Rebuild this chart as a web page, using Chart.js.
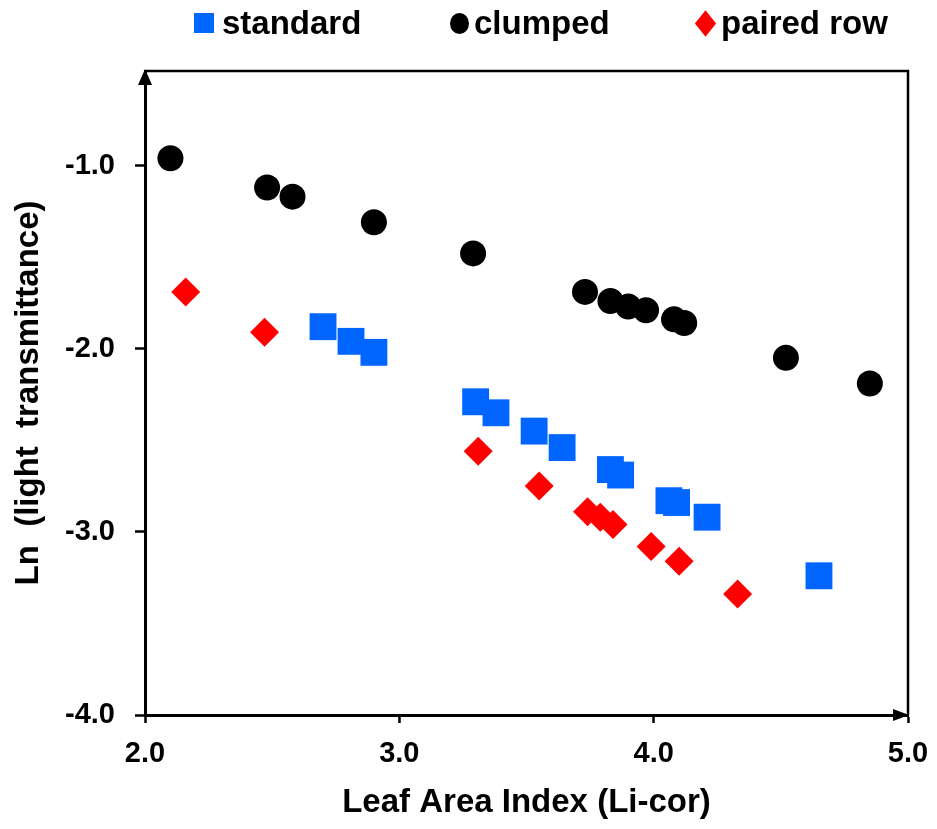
<!DOCTYPE html>
<html>
<head>
<meta charset="utf-8">
<script src="https://cdn.jsdelivr.net/npm/chart.js@4.4.0/dist/chart.umd.min.js"></script>
<style>
  html, body { margin: 0; padding: 0; background: #ffffff; }
  #wrap { position: relative; width: 937px; height: 829px; }
  #legend { position: absolute; top: 0; left: 0; width: 937px; height: 46px;
            font: bold 33px 'Liberation Sans', Arial, sans-serif; color: #000; }
  .item { position: absolute; top: 0; height: 46px; display: flex; align-items: center; white-space: pre; }
  .mk { display: inline-block; flex: none; }
</style>
</head>
<body>
<div id="wrap">
  <canvas id="c" width="937" height="829"></canvas>
  <div id="legend"></div>
</div>
<script>
// ---- data ----
const seriesNames = ['standard', 'clumped', 'paired row'];

const standardX = [2.70, 2.81, 2.90, 3.30, 3.38, 3.53, 3.64, 3.83, 3.87, 4.06, 4.09, 4.21, 4.65];
const standardY = [-1.88, -1.96, -2.02, -2.29, -2.35, -2.45, -2.54, -2.66, -2.69, -2.83, -2.84, -2.92, -3.24];

const clumpedX = [2.10, 2.48, 2.58, 2.90, 3.29, 3.73, 3.83, 3.90, 3.97, 4.08, 4.12, 4.52, 4.85];
const clumpedY = [-0.96, -1.12, -1.17, -1.31, -1.48, -1.69, -1.74, -1.77, -1.79, -1.84, -1.86, -2.05, -2.19];

const pairedX = [2.16, 2.47, 3.31, 3.55, 3.74, 3.79, 3.84, 3.99, 4.10, 4.33];
const pairedY = [-1.69, -1.91, -2.56, -2.75, -2.89, -2.92, -2.96, -3.08, -3.16, -3.34];

const xTickValues = [2, 3, 4, 5];
const yTickValues = [-4, -3, -2, -1];

const xTitle = 'Leaf Area Index (Li-cor)';
const yTitle = 'Ln  (light  transmittance)';

// ---- helpers ----
function pts(xs, ys) { return xs.map((x, i) => ({ x: x, y: ys[i] })); }

const FONT = "'Liberation Sans', Arial, sans-serif";

const datasets = [
  { label: seriesNames[0], data: pts(standardX, standardY), pointStyle: 'rect',
    pointRadius: 19, backgroundColor: '#0066ff', borderColor: '#0066ff', pointBorderWidth: 0 },
  { label: seriesNames[1], data: pts(clumpedX, clumpedY), pointStyle: 'circle',
    pointRadius: 13, backgroundColor: '#000000', borderColor: '#000000', pointBorderWidth: 0 },
  { label: seriesNames[2], data: pts(pairedX, pairedY), pointStyle: 'rectRot',
    pointRadius: 14.5, backgroundColor: '#ff0000', borderColor: '#ff0000', pointBorderWidth: 0 }
];

// frame (top/right lines) and axis arrowheads
const framePlugin = {
  id: 'frame',
  afterDraw(chart) {
    const { ctx, chartArea: { left, right, top, bottom } } = chart;
    ctx.save();
    ctx.strokeStyle = '#000';
    ctx.lineWidth = 2.5;
    ctx.beginPath();
    ctx.moveTo(left, top);
    ctx.lineTo(right, top);
    ctx.lineTo(right, bottom);
    ctx.stroke();
    ctx.fillStyle = '#000';
    ctx.beginPath();
    ctx.moveTo(left, top - 2);
    ctx.lineTo(left - 7, top + 14);
    ctx.lineTo(left + 7, top + 14);
    ctx.closePath();
    ctx.fill();
    ctx.beginPath();
    ctx.moveTo(right + 1, bottom);
    ctx.lineTo(right - 15, bottom - 6);
    ctx.lineTo(right - 15, bottom + 6);
    ctx.closePath();
    ctx.fill();
    ctx.restore();
  }
};

new Chart(document.getElementById('c'), {
  type: 'scatter',
  data: { datasets: datasets },
  plugins: [framePlugin],
  options: {
    responsive: false,
    animation: false,
    devicePixelRatio: 1,
    layout: { padding: { top: 71, left: 0, right: 29, bottom: 0 } },
    plugins: { legend: { display: false }, tooltip: { enabled: false } },
    scales: {
      x: {
        type: 'linear', min: 2, max: 5,
        afterFit(s) { s.height = 114; s.paddingLeft = 0; s.paddingRight = 0; },
        afterBuildTicks(s) { s.ticks = xTickValues.map(v => ({ value: v })); },
        ticks: { color: '#000', padding: 14, font: { family: FONT, size: 29, weight: 'bold' },
                 callback: v => Number(v).toFixed(1), maxRotation: 0 },
        grid: { drawOnChartArea: false, drawTicks: true, tickLength: 8, tickColor: '#000', tickWidth: 2.5 },
        border: { display: true, color: '#000', width: 3 },
        title: { display: true, text: xTitle, color: '#000',
                 font: { family: FONT, size: 33, weight: 'bold' }, padding: { top: 0, bottom: 6 } }
      },
      y: {
        type: 'linear', min: -4, max: -0.484,
        afterFit(s) { s.width = 145; },
        afterBuildTicks(s) { s.ticks = yTickValues.map(v => ({ value: v })); },
        ticks: { color: '#000', padding: 20, font: { family: FONT, size: 29, weight: 'bold' },
                 callback: v => Number(v).toFixed(1) },
        grid: { drawOnChartArea: false, drawTicks: true, tickLength: 10, tickColor: '#000', tickWidth: 2.5 },
        border: { display: true, color: '#000', width: 3 },
        title: { display: true, text: yTitle, color: '#000',
                 font: { family: FONT, size: 33, weight: 'bold' }, padding: { top: 9, bottom: 0 } }
      }
    }
  }
});

// ---- HTML legend built from the datasets ----
const legendLeft = [194, 450, 696];
const legendEl = document.getElementById('legend');
datasets.forEach((ds, i) => {
  const item = document.createElement('div');
  item.className = 'item';
  item.style.left = legendLeft[i] + 'px';
  const mk = document.createElement('span');
  mk.className = 'mk';
  if (ds.pointStyle === 'rect') {
    mk.style.cssText = 'width:20px;height:20px;margin-right:8px;background:' + ds.backgroundColor;
  } else if (ds.pointStyle === 'circle') {
    mk.style.cssText = 'width:19px;height:21px;border-radius:50%;margin-right:5px;background:' + ds.backgroundColor;
  } else {
    mk.style.cssText = 'width:15px;height:15px;transform:scaleY(1.25) rotate(45deg);margin:0 8px 0 2px;background:' + ds.backgroundColor;
  }
  const tx = document.createElement('span');
  tx.textContent = ds.label;
  item.appendChild(mk);
  item.appendChild(tx);
  legendEl.appendChild(item);
});
</script>
</body>
</html>
